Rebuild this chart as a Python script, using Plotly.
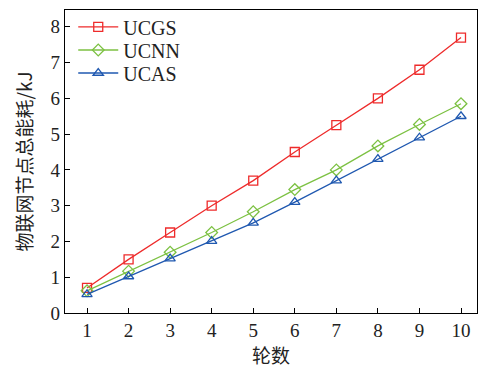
import plotly.graph_objects as go

rounds = [1, 2, 3, 4, 5, 6, 7, 8, 9, 10]
ucgs = [0.7, 1.5, 2.25, 3.0, 3.7, 4.5, 5.25, 6.0, 6.8, 7.7]
ucnn = [0.62, 1.17, 1.7, 2.25, 2.83, 3.45, 4.0, 4.67, 5.27, 5.85]
ucas = [0.52, 1.02, 1.52, 2.01, 2.52, 3.1, 3.7, 4.3, 4.9, 5.5]

series = [
    ("UCGS", ucgs, "#ee2b2b", "square-open", "legend"),
    ("UCNN", ucnn, "#7cc142", "diamond-open", "legend2"),
    ("UCAS", ucas, "#1f58b0", "triangle-up-open", "legend3"),
]

fig = go.Figure()
for name, vals, color, sym, leg in series:
    fig.add_trace(go.Scatter(
        x=rounds, y=vals, name=name, mode="lines+markers", legend=leg,
        line=dict(color=color, width=1.3),
        marker=dict(symbol=sym, size=9, color=color, line=dict(width=1.3, color=color)),
    ))

serif = "Liberation Serif, Times New Roman, serif"
cjk = "Noto Sans CJK SC"

axis_common = dict(
    showline=True, linecolor="black", linewidth=1.2, mirror=True,
    ticks="inside", ticklen=5, tickcolor="black", tickwidth=1,
    showgrid=False, zeroline=False,
    tickfont=dict(family=serif, size=19, color="#222"),
)

legend_style = dict(
    x=0.02, xanchor="left", yanchor="middle",
    bgcolor="rgba(0,0,0,0)", font=dict(family=serif, size=20, color="#222"),
    itemwidth=40,
)

fig.update_layout(
    width=478, height=368,
    margin=dict(l=65, r=1, t=10, b=55),
    plot_bgcolor="white", paper_bgcolor="white",
    font=dict(family=serif, color="#222"),
    xaxis=dict(range=[0.47, 10.385], tickvals=rounds,
               title=dict(text="轮数", font=dict(family=cjk, size=19), standoff=6),
               **axis_common),
    yaxis=dict(range=[0, 8.47], tickvals=list(range(0, 9)),
               title=dict(text="物联网节点总能耗/kJ", font=dict(family=cjk, size=19), standoff=12),
               **axis_common),
    legend=dict(y=0.944, **legend_style),
    legend2=dict(y=0.868, **legend_style),
    legend3=dict(y=0.792, **legend_style),
    showlegend=True,
)

fig.write_html("out.html")
